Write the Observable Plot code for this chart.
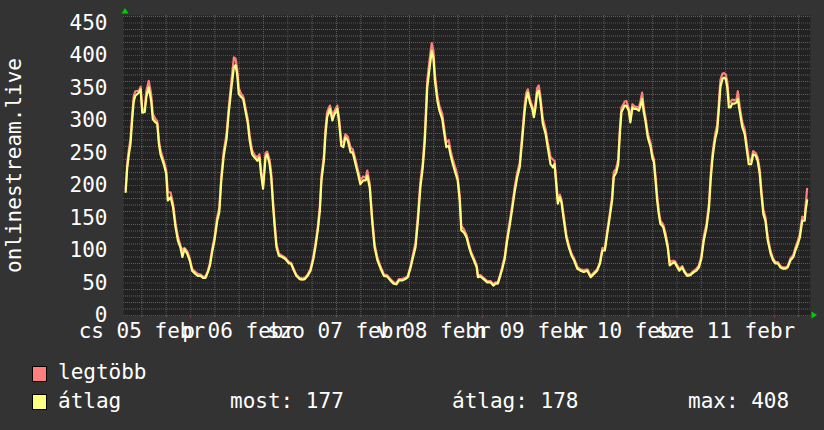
<!DOCTYPE html>
<html><head><meta charset="utf-8">
<script src="https://cdn.jsdelivr.net/npm/d3@7"></script>
<script src="https://cdn.jsdelivr.net/npm/@observablehq/plot@0.6"></script>
<style>
html,body{margin:0;padding:0;background:#333333;}
#wrap{position:relative;width:824px;height:430px;overflow:hidden;font-family:"DejaVu Sans Mono",monospace;color:#ffffff;}
#wrap svg{position:absolute;left:0;top:0;}
.lg{position:absolute;font-size:21px;white-space:pre;line-height:20px;}
.sw{position:absolute;width:15px;height:16px;border:1px solid #000;box-sizing:border-box;}
</style></head><body><div id="wrap"></div>
<script>
// hours since Feb 05 00:00
const hours = [8.0,8.4,8.8,9.2,9.6,10.0,10.4,11.3,11.7,12.1,12.7,13.1,13.7,14.3,14.7,15.4,15.8,16.2,16.6,17.4,18.0,18.4,19.1,19.7,20.3,20.9,21.5,22.0,22.5,23.2,23.8,24.4,25.2,25.8,26.5,27.1,27.7,28.3,28.8,29.4,29.9,30.6,31.1,31.6,32.2,32.9,33.4,34.1,34.7,35.1,35.5,35.9,36.5,37.0,37.6,38.1,38.6,39.2,39.8,40.5,41.0,41.4,41.9,42.5,42.9,43.5,43.9,44.4,44.7,45.2,45.8,46.6,47.4,48.3,48.8,49.5,50.1,50.9,51.6,52.2,52.9,53.6,54.3,54.8,55.4,55.9,56.3,56.9,57.3,57.7,58.4,59.0,59.4,60.2,60.6,61.2,61.7,62.2,62.8,63.5,64.0,64.7,65.3,65.9,66.6,67.2,67.6,68.2,68.8,69.4,70.1,70.9,71.7,72.5,73.3,74.1,74.8,75.4,76.2,77.0,77.6,78.3,78.9,79.5,80.1,80.7,81.3,81.8,82.4,83.0,83.5,83.9,84.3,84.9,85.4,86.1,86.5,87.1,87.7,88.1,88.7,89.4,89.9,90.4,90.8,91.4,92.1,92.7,93.2,93.9,94.6,94.9,95.5,96.3,97.2,98.0,98.7,99.2,99.8,100.3,100.9,101.5,102.1,102.8,103.4,104.0,104.6,105.2,105.8,106.4,106.8,107.2,107.7,108.3,108.7,109.1,109.5,109.9,110.3,110.9,111.6,112.1,112.8,113.4,113.8,114.2,114.6,115.1,115.5,116.1,116.7,117.3,118.0,118.6,119.4,120.2,121.0,121.9,122.7,123.5,124.3,125.0,125.6,126.2,126.8,127.4,128.0,128.4,129.0,129.5,129.9,130.3,130.7,131.1,131.5,132.1,132.5,133.0,133.5,134.0,134.6,135.0,135.4,135.8,136.2,136.8,137.5,137.9,138.3,138.7,139.1,139.5,139.9,140.6,141.2,141.7,142.2,142.8,143.4,144.1,144.6,145.3,145.8,146.5,147.3,148.2,148.8,149.4,150.0,150.6,151.3,151.9,152.3,152.7,153.1,153.5,153.9,154.3,154.7,155.2,155.6,156.0,156.4,156.8,157.2,157.6,158.2,158.7,159.0,159.5,160.1,160.7,161.2,161.7,162.3,162.8,163.4,163.9,164.4,164.8,165.3,165.8,166.4,167.1,167.7,168.3,168.9,169.5,170.2,170.8,171.3,172.0,172.7,173.2,173.8,174.3,174.9,175.5,175.7,176.1];
// "átlag" (average)
const avgValues = [190,228,248,264,300,330,338,343,348,312,313,336,351,330,302,297,295,264,248,233,218,177,182,166,136,115,105,90,102,95,85,69,64,61,61,58,58,67,77,100,115,146,159,208,246,272,310,351,382,385,372,341,336,333,313,297,269,248,243,238,243,218,195,243,248,233,213,166,141,105,92,90,87,80,80,69,61,56,55,56,61,69,87,105,131,161,208,238,279,305,318,300,308,318,300,261,259,274,269,251,251,233,218,202,208,208,215,197,146,105,85,72,61,60,54,49,48,54,54,56,59,74,90,105,146,197,228,269,351,382,407,397,361,330,315,302,284,259,261,248,233,218,208,177,131,128,120,105,95,85,74,59,60,56,51,51,46,49,49,59,72,87,115,141,166,192,213,228,269,313,333,343,328,318,305,320,343,346,330,295,279,259,233,228,233,202,172,182,174,146,120,105,92,85,72,69,67,69,59,64,69,80,100,100,126,151,177,213,220,233,279,313,318,323,323,315,297,320,318,318,315,323,333,313,300,274,259,243,236,208,177,156,141,136,120,105,77,80,82,74,69,74,67,61,62,67,69,74,87,115,136,166,208,238,259,274,284,315,351,364,366,364,351,320,320,326,326,328,333,313,290,279,256,233,233,248,246,238,218,187,156,146,115,95,85,80,80,74,72,72,74,85,90,100,110,120,146,146,161,177];
// "legtöbb" (maximum)
const maxValues = [195,235,256,272,309,338,345,346,352,316,318,345,361,340,310,302,299,270,254,238,224,190,189,172,142,121,108,100,104,99,88,72,67,64,63,60,60,69,81,104,120,152,166,215,253,280,318,362,397,395,380,350,341,337,318,303,277,254,247,243,248,224,200,250,252,240,220,172,148,110,95,92,89,82,81,71,63,58,57,58,63,72,91,110,137,168,215,246,288,313,323,308,313,323,306,268,266,279,275,258,256,240,224,208,214,212,223,203,152,110,89,75,63,62,56,51,50,56,56,58,61,77,95,112,155,206,236,280,362,395,419,408,370,338,322,310,291,266,270,255,240,226,213,185,138,133,124,109,98,88,77,62,62,58,53,53,48,51,51,61,75,91,120,147,172,199,220,235,277,322,342,348,333,322,309,328,350,354,338,303,286,267,244,240,238,208,180,186,178,152,125,109,95,88,75,71,70,71,61,66,71,82,104,103,131,156,184,221,226,240,287,320,324,329,330,319,302,325,322,321,320,330,343,320,306,280,265,249,241,215,185,162,146,140,126,109,82,84,84,77,72,76,69,63,64,69,72,77,91,121,142,174,216,246,266,282,292,325,362,372,373,371,360,330,328,332,331,333,345,320,297,286,264,241,238,253,250,243,225,195,163,152,120,99,88,82,82,76,74,74,76,88,93,104,115,125,152,150,168,195];
const dayLabels = ["cs 05 febr","p 06 febr","szo 07 febr","v 08 febr","h 09 febr","k 10 febr","sze 11 febr"];
const yTicks = [0,50,100,150,200,250,300,350,400,450];
const seriesNames = ["legtöbb","átlag"];
const seriesColors = ["#ff7f7f","#ffff7f"];
const statLabels = ["most: 177","átlag: 178","max: 408"];
const yTitle = "onlinestream.live";

const T0 = Date.UTC(2026,1,5);
const t = h => new Date(T0 + h*3600e3);
const data = hours.map((h,i)=>({date:t(h), avg:avgValues[i], max:maxValues[i]}));
const xDomain = [t(7.47), t(176.93)];
const majorTimes = d3.range(24, 177, 24).map(t);
const minorTimes = d3.range(12, 177, 6).filter(h=>h%24!==0).map(t);
const majorVals = d3.range(0, 461, 50);
const minorVals = d3.range(10, 461, 10).filter(v=>v%50!==0);
const labelData = dayLabels.map((s,i)=>({date:t(12+24*i), label:s}));

const grayGrid = "#616161", redGrid = "#8e3535";
const plot = Plot.plot({
  width:824, height:345,
  marginLeft:123, marginRight:14, marginTop:15, marginBottom:30,
  style:{background:"transparent", color:"#ffffff", fontFamily:"'DejaVu Sans Mono', monospace", fontSize:"21px", overflow:"visible"},
  x:{type:"utc", domain:xDomain, axis:null},
  y:{domain:[0,461.5], axis:null},
  marks:[
    Plot.frame({fill:"#222222", stroke:null}),
    Plot.ruleX(minorTimes, {stroke:grayGrid, strokeDasharray:"1,1"}),
    Plot.ruleY(minorVals, {stroke:grayGrid, strokeDasharray:"1,1"}),
    Plot.ruleX(majorTimes, {stroke:redGrid, strokeDasharray:"1,1"}),
    Plot.ruleY(majorVals, {stroke:redGrid, strokeDasharray:"1,1"}),
    Plot.ruleX(majorTimes, {y1:0, y2:-5, stroke:redGrid}),
    Plot.ruleX(minorTimes, {y1:0, y2:-3, stroke:grayGrid}),
    Plot.line(data, {x:"date", y:"max", stroke:seriesColors[0], strokeWidth:2.2}),
    Plot.line(data, {x:"date", y:"avg", stroke:seriesColors[1], strokeWidth:2.2}),
    Plot.text(yTicks, {y:d=>d, text:d=>String(d), frameAnchor:"left", dx:-16, textAnchor:"end", fill:"#ffffff", fontSize:21}),
    Plot.text(labelData, {x:"date", text:"label", frameAnchor:"bottom", dy:16, fill:"#ffffff", fontSize:21, lineAnchor:"middle"}),
    Plot.text([yTitle], {text:d=>d, frameAnchor:"left", dx:-109, rotate:-90, textAnchor:"middle", fill:"#ffffff", fontSize:21})
  ]
});
const wrap = document.getElementById("wrap");
wrap.appendChild(plot);
// axis arrows
const svg = d3.select(plot);
svg.append("polygon").attr("points","125,8 121.5,13.5 128.5,13.5").attr("fill","#00d000");
svg.append("polygon").attr("points","817,315 811.5,311.5 811.5,318.5").attr("fill","#00d000");

// legend
function add(cls, css, text){const d=document.createElement("div");d.className=cls;Object.assign(d.style,css);if(text)d.textContent=text;wrap.appendChild(d);}
add("sw",{left:"32px",top:"366px",background:seriesColors[0]});
add("lg",{left:"58px",top:"362px"},seriesNames[0]);
add("sw",{left:"32px",top:"394px",background:seriesColors[1]});
add("lg",{left:"58px",top:"391px"},seriesNames[1]);
add("lg",{left:"230px",top:"391px"},statLabels[0]);
add("lg",{left:"452px",top:"391px"},statLabels[1]);
add("lg",{left:"688px",top:"391px"},statLabels[2]);
</script></body></html>
